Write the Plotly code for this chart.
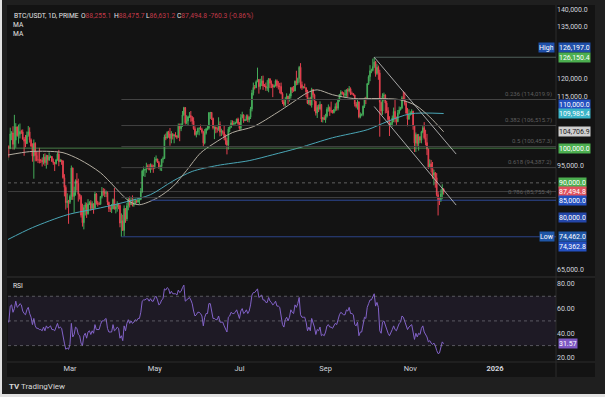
import numpy as np
import pandas as pd
import plotly.graph_objects as go

# ---------------- data (prices in thousands of USDT) ----------------
START = "2025-01-15"
OPEN_FIRST_K = 96.5

CLOSE_K = [
    100.5, 99.9, 104.1, 104.4, 101.1, 102.3, 106.1, 103.6, 104.0, 104.8, 104.7, 102.6, 102.0, 101.3, 103.7, 104.7, 102.4,  # Jan 15-31
    100.6, 97.7, 101.4, 97.9, 96.6, 96.6, 96.5, 96.5, 96.1, 97.4, 95.8, 97.9, 96.6, 97.5, 97.6, 96.2, 95.8, 95.5, 96.6, 98.3, 96.1, 96.6, 96.3, 91.5, 88.7, 84.3, 84.7, 84.4,  # Feb
    86.1, 94.3, 86.1, 87.2, 90.6, 89.9, 86.7, 86.1, 80.7, 78.5, 82.9, 83.7, 81.1, 83.9, 84.3, 82.6, 84.0, 82.7, 86.8, 84.2, 84.0, 83.8, 86.1, 87.5, 87.4, 86.9, 87.2, 84.4, 82.6, 82.4, 82.5,  # Mar
    85.2, 82.5, 83.1, 83.8, 83.5, 78.4, 79.1, 76.3, 82.6, 79.6, 83.4, 85.3, 83.7, 84.5, 83.6, 84.0, 84.9, 84.4, 85.1, 85.2, 87.5, 93.4, 93.7, 93.9, 94.7, 94.6, 93.8, 95.0, 94.3, 94.2,  # Apr
    96.5, 96.9, 95.9, 94.3, 94.7, 96.8, 97.0, 103.2, 102.9, 104.6, 104.1, 102.8, 104.1, 103.5, 103.7, 103.6, 103.1, 106.5, 105.6, 106.8, 109.6, 111.7, 107.3, 107.8, 109.0, 109.4, 108.9, 107.8, 105.6, 103.9, 104.6,  # May
    105.7, 105.8, 105.4, 104.7, 101.5, 104.3, 105.6, 105.7, 110.2, 110.3, 108.6, 105.9, 106.1, 105.5, 105.5, 106.8, 104.6, 104.8, 104.6, 103.3, 102.2, 100.9, 105.5, 106.0, 107.3, 106.9, 107.1, 107.3, 108.4, 107.1,  # Jun
    105.7, 108.8, 109.6, 107.9, 108.2, 109.2, 108.2, 108.9, 111.3, 115.9, 117.5, 117.4, 119.1, 119.8, 117.7, 118.7, 119.4, 117.9, 117.9, 117.3, 117.4, 120.0, 118.7, 118.3, 117.6, 117.9, 119.4, 118.0, 117.8, 117.8, 115.7,  # Jul
    113.3, 112.5, 114.2, 115.0, 114.1, 115.0, 117.4, 116.7, 116.5, 119.3, 118.7, 120.1, 123.3, 118.3, 117.4, 117.5, 117.4, 116.2, 112.9, 114.3, 112.4, 116.9, 115.4, 113.5, 110.1, 111.8, 111.3, 112.6, 108.4, 108.8, 108.2,  # Aug
    109.2, 111.2, 111.7, 110.7, 110.7, 110.2, 111.1, 112.0, 111.5, 113.9, 115.5, 116.1, 115.9, 115.3, 115.4, 116.8, 116.5, 117.1, 115.7, 115.7, 115.3, 112.7, 112.0, 113.3, 109.0, 109.7, 109.7, 112.1, 114.4, 114.0,  # Sep
    118.6, 120.6, 122.3, 122.4, 123.5, 124.8, 121.5, 123.3, 121.7, 113.2, 110.7, 115.1, 115.3, 113.0, 110.8, 108.2, 106.5, 107.2, 108.7, 110.6, 108.5, 107.6, 110.1, 111.0, 111.6, 114.5, 114.1, 112.9, 110.1, 108.3, 109.6,  # Oct
    110.1, 110.6, 106.5, 101.5, 103.9, 101.3, 103.3, 102.3, 104.7, 105.9, 103.0, 101.6, 99.7, 94.6, 95.5, 94.2, 92.2, 92.9, 91.5, 86.6, 85.1, 84.7, 86.8, 88.2551, 87.4948,  # Nov 1-25
]
HIGH_K = [
    100.7, 100.8, 105.9, 104.9, 106.3, 109.6, 107.2, 106.3, 106.8, 107.1, 105.3, 105.4, 103.2, 103.8, 104.8, 106.4, 106.0,
    102.8, 101.4, 102.5, 101.7, 99.0, 99.0, 100.1, 96.9, 97.3, 98.3, 98.5, 98.1, 98.0, 98.8, 97.9, 97.7, 97.0, 96.0, 96.9, 98.8, 99.5, 96.9, 96.5, 96.5, 92.5, 89.3, 87.0, 85.1,
    86.6, 95.0, 94.4, 88.9, 91.0, 92.8, 91.2, 86.9, 86.5, 84.0, 83.6, 84.4, 84.3, 85.3, 84.7, 85.0, 84.7, 84.0, 87.4, 87.1, 84.8, 84.5, 86.2, 88.8, 88.5, 88.3, 87.8, 87.5, 84.6, 83.5, 83.9,
    85.5, 88.5, 83.9, 84.7, 84.2, 83.8, 81.2, 80.8, 83.5, 82.7, 84.2, 85.9, 86.1, 85.8, 86.4, 85.5, 85.5, 85.1, 85.6, 85.4, 88.5, 93.8, 94.7, 94.0, 95.8, 95.3, 95.4, 95.6, 95.5, 95.2,
    97.4, 97.9, 96.9, 96.3, 95.2, 96.9, 97.6, 103.9, 104.2, 104.9, 105.0, 105.8, 104.9, 104.3, 104.1, 104.6, 103.7, 107.1, 107.1, 107.2, 110.7, 111.9, 111.8, 109.5, 109.3, 110.4, 110.7, 109.3, 108.9, 106.3, 104.9,
    105.9, 105.9, 106.8, 105.9, 105.0, 105.5, 105.9, 106.5, 110.4, 110.4, 110.4, 108.8, 106.2, 106.2, 106.0, 108.9, 107.7, 105.6, 105.2, 106.5, 104.0, 102.9, 106.1, 106.3, 108.1, 108.0, 107.8, 107.6, 108.5, 108.8,
    107.5, 109.8, 110.5, 109.7, 108.4, 109.7, 109.7, 109.2, 111.9, 116.8, 118.9, 118.2, 119.5, 123.2, 119.9, 120.0, 120.8, 120.9, 118.5, 118.9, 119.6, 120.2, 120.1, 119.5, 118.5, 118.3, 119.8, 119.8, 119.3, 118.8, 118.9,
    116.1, 114.0, 114.7, 115.8, 115.1, 115.7, 117.6, 117.7, 117.9, 119.5, 122.3, 120.3, 123.7, 124.5, 119.2, 117.9, 118.6, 117.5, 116.8, 114.6, 114.8, 117.4, 117.0, 115.7, 113.6, 112.4, 112.6, 113.5, 112.7, 108.9, 109.5,
    109.9, 111.8, 112.6, 112.0, 113.4, 111.0, 111.3, 112.9, 113.2, 114.3, 115.6, 116.7, 116.4, 116.1, 116.8, 117.0, 117.3, 117.9, 117.5, 116.3, 115.8, 115.4, 113.3, 114.0, 113.5, 110.3, 110.0, 112.3, 114.5, 114.8,
    118.7, 121.0, 123.9, 122.9, 125.8, 126.197, 125.1, 124.2, 123.8, 122.6, 113.4, 115.8, 116.0, 115.5, 113.6, 111.8, 109.2, 107.5, 109.4, 111.7, 114.0, 109.1, 111.0, 112.0, 111.9, 115.0, 116.4, 116.1, 113.6, 111.6, 111.2,
    110.6, 111.2, 110.8, 106.6, 104.5, 104.1, 104.1, 103.4, 105.0, 106.6, 107.5, 105.3, 104.1, 99.9, 96.8, 96.6, 96.0, 93.8, 93.1, 92.8, 87.5, 85.6, 88.1, 89.6, 88.4757,
]
LOW_K = [
    96.4, 97.3, 99.7, 102.3, 99.6, 99.6, 100.1, 103.3, 101.3, 102.8, 104.1, 102.5, 97.8, 100.3, 101.2, 103.3, 101.6,
    100.3, 96.1, 91.2, 96.2, 96.2, 95.7, 95.6, 95.7, 94.7, 95.3, 94.9, 94.1, 95.2, 96.3, 97.2, 96.0, 95.2, 93.4, 95.3, 96.4, 94.8, 96.0, 95.2, 91.2, 86.1, 82.3, 82.8, 78.2,
    83.9, 85.1, 85.1, 81.4, 86.3, 87.8, 84.6, 85.2, 80.0, 77.4, 76.6, 80.6, 79.9, 80.8, 83.6, 82.0, 82.4, 81.1, 82.6, 83.7, 83.2, 83.7, 83.8, 85.5, 86.3, 85.9, 85.9, 83.6, 81.6, 81.6, 81.3,
    82.4, 82.3, 81.2, 81.7, 82.4, 77.2, 74.462, 76.2, 74.6, 78.5, 79.0, 82.1, 82.9, 83.7, 83.2, 83.1, 83.9, 84.1, 84.4, 83.9, 85.0, 87.1, 91.9, 91.7, 92.9, 93.9, 93.6, 92.9, 93.8, 92.9,
    94.1, 96.1, 95.7, 94.1, 93.5, 93.4, 95.8, 96.9, 102.3, 102.8, 103.0, 100.7, 101.4, 102.5, 101.4, 103.1, 102.6, 103.1, 102.0, 104.9, 106.1, 109.3, 106.8, 106.9, 106.6, 108.7, 107.6, 106.8, 105.3, 103.6, 103.1,
    103.9, 103.7, 105.2, 104.2, 100.4, 101.1, 103.9, 105.1, 105.3, 108.4, 108.1, 105.4, 102.6, 104.3, 104.5, 105.0, 103.4, 103.5, 103.9, 102.3, 101.0, 98.2, 99.6, 104.6, 105.9, 106.6, 106.4, 106.8, 107.2, 106.7,
    105.3, 105.2, 108.6, 107.3, 107.8, 107.9, 107.5, 107.4, 108.4, 110.6, 115.2, 116.9, 117.3, 119.1, 115.7, 116.9, 117.9, 116.8, 117.6, 116.5, 116.5, 116.1, 117.3, 117.3, 114.7, 117.4, 117.8, 117.4, 116.9, 115.8, 115.5,
    112.7, 112.0, 112.0, 114.1, 112.7, 113.4, 114.3, 115.9, 116.3, 116.4, 118.1, 118.2, 118.9, 117.2, 116.8, 117.2, 117.3, 114.7, 112.7, 112.4, 112.3, 111.7, 114.6, 110.6, 109.4, 108.7, 110.4, 110.9, 107.5, 107.4, 108.1,
    107.3, 108.8, 110.5, 109.3, 110.1, 110.0, 110.0, 110.6, 110.8, 110.9, 113.4, 114.7, 115.4, 114.8, 114.4, 114.8, 114.7, 116.1, 115.3, 115.4, 115.1, 112.0, 111.5, 111.1, 108.6, 108.6, 109.2, 109.2, 111.6, 112.7,
    113.9, 118.2, 119.3, 121.6, 122.1, 123.1, 120.6, 121.1, 119.7, 103.3, 109.6, 109.6, 113.5, 110.0, 110.1, 107.4, 103.5, 106.4, 106.2, 107.5, 107.4, 106.7, 107.5, 109.7, 110.9, 111.3, 113.8, 112.3, 109.9, 106.3, 108.7,
    109.4, 109.6, 105.3, 98.9, 98.9, 100.3, 99.3, 101.5, 101.4, 104.3, 102.5, 100.8, 98.0, 94.0, 94.6, 93.0, 91.2, 89.3, 88.6, 86.1, 80.6, 83.6, 84.7, 85.3, 86.6312,
]
RSI = [
    50, 49, 62, 63, 57, 60, 66, 61, 62, 64, 63, 58, 56, 55, 59, 61, 56,
    53, 47, 52, 46, 44, 44, 43, 43, 42, 45, 42, 46, 44, 45, 46, 43, 43, 42, 45, 48, 44, 45, 44, 36, 32, 27, 28, 27,
    31, 48, 37, 39, 45, 44, 39, 38, 32, 30, 38, 40, 36, 41, 42, 39, 42, 40, 47, 43, 43, 43, 47, 50, 50, 51, 52, 44, 41, 41, 41,
    47, 42, 43, 45, 44, 36, 38, 34, 46, 42, 48, 51, 48, 50, 48, 49, 51, 50, 52, 52, 57, 66, 67, 67, 68, 68, 66, 68, 66, 66,
    69, 70, 67, 63, 64, 67, 68, 76, 75, 77, 76, 72, 74, 72, 72, 72, 71, 75, 73, 74, 77, 79, 66, 67, 68, 69, 67, 64, 58, 54, 55,
    57, 57, 56, 54, 46, 53, 56, 56, 64, 64, 59, 52, 52, 51, 51, 54, 49, 49, 49, 46, 44, 41, 53, 54, 57, 56, 56, 57, 59, 55,
    52, 58, 60, 56, 57, 59, 56, 58, 63, 71, 73, 73, 75, 76, 69, 70, 71, 67, 67, 65, 65, 69, 66, 65, 63, 64, 66, 62, 62, 61, 55,
    47, 45, 51, 53, 50, 53, 59, 57, 56, 63, 61, 64, 69, 55, 53, 53, 53, 49, 42, 45, 42, 52, 49, 45, 39, 43, 42, 45, 38, 39, 38,
    41, 46, 47, 45, 45, 44, 46, 48, 47, 52, 55, 57, 56, 55, 55, 59, 58, 61, 56, 56, 55, 47, 46, 49, 38, 41, 41, 48, 53, 52,
    61, 64, 67, 67, 69, 72, 62, 65, 61, 42, 40, 49, 50, 46, 43, 40, 38, 40, 43, 46, 43, 42, 46, 48, 49, 54, 53, 50, 46, 43, 45,
    46, 47, 41, 35, 40, 37, 40, 39, 44, 46, 41, 39, 37, 33, 34, 32, 31, 32, 30, 26, 23.5, 24, 29, 33, 31.57,
]

MA50_DATES = ["2025-01-15", "2025-01-31", "2025-02-12", "2025-02-24", "2025-03-08", "2025-03-23", "2025-04-13",
              "2025-04-20", "2025-05-03", "2025-05-14", "2025-05-24", "2025-06-03", "2025-06-12", "2025-06-26",
              "2025-07-11", "2025-07-28", "2025-08-08", "2025-08-19", "2025-08-26", "2025-09-06", "2025-09-21",
              "2025-10-08", "2025-10-24", "2025-11-05", "2025-11-15", "2025-11-25"]
MA50_K = [98.0, 99.0, 99.1, 98.7, 96.7, 92.9, 84.6, 83.7, 85.7, 88.9, 93.6, 98.6, 101.2, 104.5,
          106.2, 110.2, 113.1, 116.0, 116.8, 115.4, 114.3, 114.3, 114.0, 112.3, 109.0, 104.7069]
MA200_DATES = ["2025-01-15", "2025-02-02", "2025-02-27", "2025-03-23", "2025-04-11", "2025-04-28", "2025-05-14",
               "2025-05-28", "2025-06-15", "2025-07-08", "2025-07-25", "2025-08-13", "2025-09-06", "2025-10-01",
               "2025-10-15", "2025-11-01", "2025-11-25"]
MA200_K = [73.6, 77.1, 80.8, 82.8, 84.6, 86.6, 90.5, 93.3, 95.0, 96.4, 98.1, 100.1, 103.0, 105.3,
           107.6, 109.9, 109.9854]

FIB_RATIOS = ["0.236", "0.382", "0.5", "0.618", "0.786"]
FIB_PRICES = [114019.9, 106515.7, 100457.3, 94387.2, 85755.4]
FIB_START = "2025-04-07"
SWING_HIGH_DATE, SWING_HIGH = "2025-10-06", 126197.0
SWING_LOW_DATE, SWING_LOW = "2025-04-07", 74462.0
LEVEL_GREEN = 100000.0
LEVEL_DASHED = 90000.0
LEVEL_BLUE, LEVEL_BLUE_START = 85000.0, "2025-04-28"
TREND_DATES = ["2025-10-06", "2025-12-04"]
TREND_A_K = [126.2, 98.3]
TREND_B_K = [112.0, 83.6]

AXIS_TAGS = [126150.4, 110000.0, 100000.0, 90000.0, 85000.0, 80000.0, 74362.8]

X_TICKS = ["2025-03-01", "2025-05-01", "2025-07-01", "2025-09-01", "2025-11-01", "2026-01-01"]
X_TICKTEXT = ["Mar", "May", "Jul", "Sep", "Nov", "<b>2026</b>"]
# price-scale labels left visible (the others sit under the tags)
PRICE_TICKS = [65000, 95000, 115000, 120000, 135000, 140000]
RSI_TICKS = [20, 40, 60, 80]
RSI_LEVELS = [70, 50, 30]

# ---------------- derived ----------------
dates = pd.date_range(START, periods=len(CLOSE_K), freq="D")
close = np.array(CLOSE_K) * 1000
opn = np.concatenate([[OPEN_FIRST_K * 1000], close[:-1]])
high = np.maximum(np.array(HIGH_K) * 1000, np.maximum(opn, close))
low = np.minimum(np.array(LOW_K) * 1000, np.minimum(opn, close))
ma50 = np.array(MA50_K) * 1000
ma200 = np.array(MA200_K) * 1000

# ---------------- layout geometry ----------------
FW, FH = 605, 397
ML, MR, MT, MB = 8, 49, 5, 35
PW, PH = FW - ML - MR, FH - MT - MB
def px(x):
    return (x - ML) / PW
def py(y):
    return (FH - MB - y) / PH

X0, X1 = "2025-01-15 09:36", "2026-02-13 21:00"
UP, DN = "#45ad5a", "#e5404f"
BG, FRAME = "#131313", "#1f1f1f"
TXT = "#d1d4dc"
FONT = "Roboto"
FS = 7

fig = go.Figure()
fig.add_trace(go.Candlestick(
    x=dates, open=opn, high=high, low=low, close=close,
    increasing=dict(line=dict(color=UP, width=1), fillcolor=UP),
    decreasing=dict(line=dict(color=DN, width=1), fillcolor=DN),
    whiskerwidth=0, xaxis="x", yaxis="y", showlegend=False, hoverinfo="skip"))
fig.add_trace(go.Scatter(x=pd.to_datetime(MA200_DATES), y=ma200, mode="lines",
                         line=dict(color="#4aa6b6", width=1, shape="spline", smoothing=0.8),
                         xaxis="x", yaxis="y", showlegend=False, hoverinfo="skip"))
fig.add_trace(go.Scatter(x=pd.to_datetime(MA50_DATES), y=ma50, mode="lines",
                         line=dict(color="#b3ada0", width=1, shape="spline", smoothing=0.8),
                         xaxis="x", yaxis="y", showlegend=False, hoverinfo="skip"))
fig.add_trace(go.Scatter(x=dates, y=RSI, mode="lines", line=dict(color="#8363c9", width=1),
                         xaxis="x", yaxis="y2", showlegend=False, hoverinfo="skip"))

shapes = []
shapes.append(dict(type="rect", xref="paper", yref="paper", x0=px(2), x1=px(FW), y0=py(394), y1=py(0),
                   fillcolor=FRAME, line=dict(width=0), layer="below"))
shapes.append(dict(type="rect", xref="paper", yref="paper", x0=px(7), x1=px(595), y0=py(377), y1=py(5),
                   fillcolor=BG, line=dict(width=0), layer="below"))
sep = "#2c2c2c"
shapes.append(dict(type="line", xref="paper", yref="paper", x0=px(556), x1=px(556), y0=py(377), y1=py(5),
                   line=dict(color=sep, width=1)))
shapes.append(dict(type="line", xref="paper", yref="paper", x0=px(7), x1=px(595), y0=py(362), y1=py(362),
                   line=dict(color=sep, width=1)))
shapes.append(dict(type="line", xref="paper", yref="paper", x0=px(7), x1=px(595), y0=py(277), y1=py(277),
                   line=dict(color="#333333", width=1)))
shapes.append(dict(type="rect", xref="x domain", yref="y2", x0=0, x1=1, y0=RSI_LEVELS[2], y1=RSI_LEVELS[0],
                   fillcolor="rgba(126,87,194,0.11)", line=dict(width=0), layer="below"))
for lv in RSI_LEVELS:
    shapes.append(dict(type="line", xref="x domain", yref="y2", x0=0, x1=1, y0=lv, y1=lv,
                       line=dict(color="rgba(140,140,150,0.55)", width=1, dash="3px,3px")))
for p in FIB_PRICES:
    shapes.append(dict(type="line", xref="x", yref="y", x0=FIB_START, x1=X1, y0=p, y1=p,
                       line=dict(color="#434343", width=1)))
shapes.append(dict(type="line", xref="x", yref="y", x0=SWING_HIGH_DATE, x1=X1, y0=SWING_HIGH, y1=SWING_HIGH,
                   line=dict(color="#4f5f5a", width=1)))
shapes.append(dict(type="line", xref="x", yref="y", x0=SWING_LOW_DATE, x1=X1, y0=SWING_LOW, y1=SWING_LOW,
                   line=dict(color="#2c4489", width=1)))
shapes.append(dict(type="line", xref="x domain", yref="y", x0=0, x1=1, y0=LEVEL_GREEN, y1=LEVEL_GREEN,
                   line=dict(color="rgba(90,160,90,0.75)", width=1)))
shapes.append(dict(type="line", xref="x domain", yref="y", x0=0, x1=1, y0=LEVEL_DASHED, y1=LEVEL_DASHED,
                   line=dict(color="rgba(150,150,150,0.6)", width=1, dash="3px,3px")))
shapes.append(dict(type="line", xref="x domain", yref="y", x0=0, x1=1, y0=close[-1], y1=close[-1],
                   line=dict(color="rgba(150,150,150,0.35)", width=1)))
shapes.append(dict(type="line", xref="x", yref="y", x0=LEVEL_BLUE_START, x1=X1, y0=LEVEL_BLUE, y1=LEVEL_BLUE,
                   line=dict(color="#2e4a9a", width=1)))
for tk in (TREND_A_K, TREND_B_K):
    shapes.append(dict(type="line", xref="x", yref="y", x0=TREND_DATES[0], x1=TREND_DATES[1],
                       y0=tk[0] * 1000, y1=tk[1] * 1000, line=dict(color="rgba(205,205,205,0.8)", width=1)))

ann = []
TAG_H = 9
def tag(val, bg, fg="#ffffff", yref="y", dy=0, text=None):
    ann.append(dict(xref="paper", yref=yref, x=1, y=val, xanchor="left", yanchor="middle", xshift=2, yshift=dy,
                    text=text if text is not None else f"{val:,.1f}", showarrow=False, bgcolor=bg,
                    borderpad=0, height=TAG_H, valign="middle",
                    font=dict(family=FONT, size=FS, color=fg)))

def side_tag(val, text, bg, dy=0):
    ann.append(dict(xref="paper", yref="y", x=1, y=val, xanchor="right", yanchor="middle", xshift=-1, yshift=dy,
                    text=text, showarrow=False, bgcolor=bg, borderpad=0, height=TAG_H, valign="middle",
                    font=dict(family=FONT, size=FS, color="#ffffff")))

BLUE = "#2450c0"
tag(SWING_HIGH, "#1f4fa8", dy=9.5)
side_tag(SWING_HIGH, "High", "#1f4fa8", dy=9.5)
tag(AXIS_TAGS[0], "#4caf50")
tag(AXIS_TAGS[1], BLUE, dy=9.2)
tag(ma200[-1], "#3bb4c8")
tag(ma50[-1], "#cfcfcf", fg="#1a1a1a")
tag(AXIS_TAGS[2], "#4caf50")
tag(AXIS_TAGS[3], "#4caf50")
tag(close[-1], "#e0505d")
tag(AXIS_TAGS[4], BLUE)
tag(AXIS_TAGS[5], "#2446a8")
tag(SWING_LOW, "#1f56a6")
side_tag(SWING_LOW, "Low", "#1f56a6")
tag(AXIS_TAGS[6], BLUE, dy=-9.5)
tag(RSI[-1], "#7e57c2", yref="y2", text=f"{RSI[-1]:.2f}")

for r, p in zip(FIB_RATIOS, FIB_PRICES):
    ann.append(dict(xref="paper", yref="y", x=1, y=p, xanchor="right", yanchor="middle", xshift=-2, yshift=6,
                    text=f"{r} ({p:,.1f})", showarrow=False,
                    font=dict(family=FONT, size=6, color="#5e5e5e")))

# header: symbol, then O/H/L/C fields at their places
HFS = 6.7
red = "#c23a4a"
chg = close[-1] - opn[-1]
hdr_parts = [
    (12, "BTC/USDT, 1D, PRIME"),
    (79, f"O<span style='color:{red}'>{opn[-1]:,.1f}</span>"),
    (112, f"H<span style='color:{red}'>{high[-1]:,.1f}</span>"),
    (144, f"L<span style='color:{red}'>{low[-1]:,.1f}</span>"),
    (175, f"C<span style='color:{red}'>{close[-1]:,.1f} {chg:+,.1f} ({chg / opn[-1] * 100:+.2f}%)</span>"),
]
for xx, t in hdr_parts:
    ann.append(dict(xref="paper", yref="paper", x=px(xx), y=py(15.5), xanchor="left", yanchor="middle",
                    text=t, showarrow=False, font=dict(family=FONT, size=HFS, color="#e6e6e6")))
for yy in (24.5, 33.5):
    ann.append(dict(xref="paper", yref="paper", x=px(11), y=py(yy), xanchor="left", yanchor="middle",
                    text="MA", showarrow=False, font=dict(family=FONT, size=HFS, color="#e6e6e6")))
ann.append(dict(xref="paper", yref="paper", x=px(11), y=py(286), xanchor="left", yanchor="middle",
                text="RSI", showarrow=False, font=dict(family=FONT, size=HFS, color="#e6e6e6")))
ann.append(dict(xref="paper", yref="paper", x=px(7), y=py(386), xanchor="left", yanchor="middle",
                text="<b>TV</b> TradingView", showarrow=False, font=dict(family=FONT, size=8, color="#d8d8d8")))

fig.update_layout(
    width=FW, height=FH, margin=dict(l=ML, r=MR, t=MT, b=MB),
    paper_bgcolor="#e2e2e2", plot_bgcolor=BG, showlegend=False,
    shapes=shapes, annotations=ann,
    xaxis=dict(domain=[0, 1], anchor="y2", type="date", range=[X0, X1], tickvals=X_TICKS, ticktext=X_TICKTEXT,
               showgrid=False, zeroline=False, showline=False, ticks="", rangeslider=dict(visible=False),
               tickfont=dict(family=FONT, size=7.5, color=TXT)),
    yaxis=dict(domain=[py(276), 1], anchor="x", side="right", range=[63160, 141250], tickvals=PRICE_TICKS,
               tickformat=",.1f", showgrid=False, zeroline=False, showline=False, ticks="",
               tickfont=dict(family=FONT, size=FS, color=TXT)),
    yaxis2=dict(domain=[0, py(277.5)], anchor="x", side="right", range=[16.7, 85.2], tickvals=RSI_TICKS,
                tickformat=".2f", showgrid=False, zeroline=False, showline=False, ticks="",
                tickfont=dict(family=FONT, size=FS, color=TXT)),
)

fig.write_html("out.html", config={"displayModeBar": False},
               post_script="document.body.style.margin='0';document.body.style.overflow='hidden';")
